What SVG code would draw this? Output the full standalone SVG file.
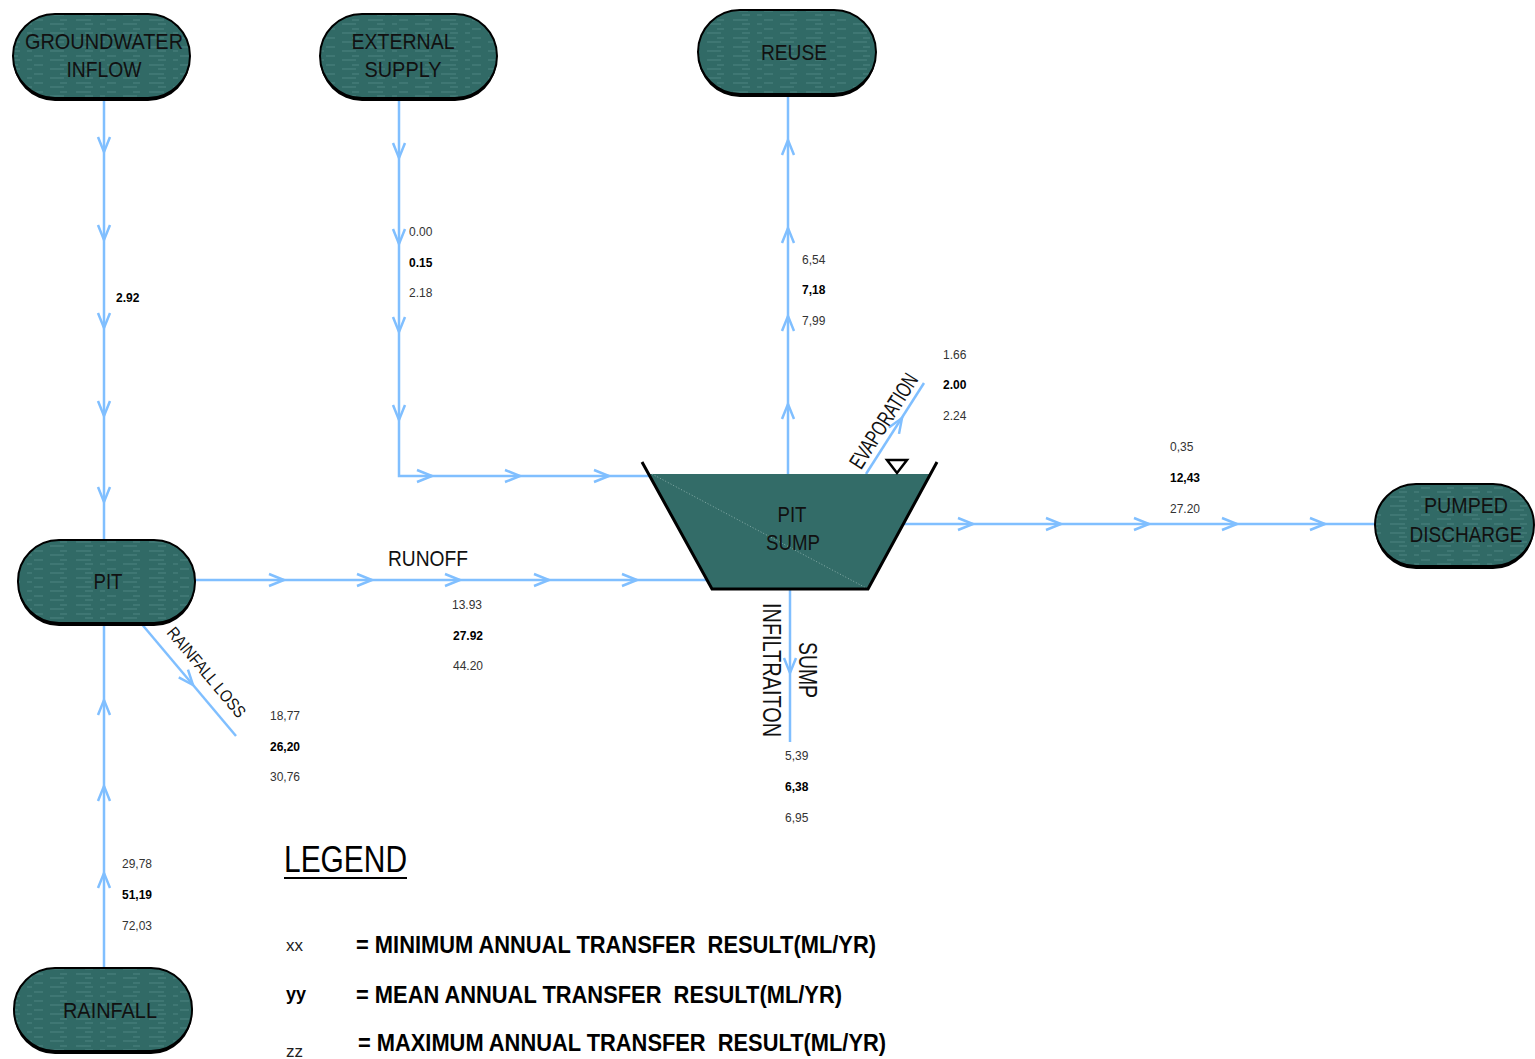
<svg xmlns="http://www.w3.org/2000/svg" xmlns:xlink="http://www.w3.org/1999/xlink" width="1535" height="1059" viewBox="0 0 1535 1059">
<style>
text{font-family:"Liberation Sans",Arial,sans-serif}
.nt{font-size:22px;fill:#111;text-anchor:middle}
.pill{fill:url(#tex);stroke:#000;stroke-width:2}
.sh{fill:#000}
.ln{fill:none;stroke:#80bfff;stroke-width:2.5}
.num{font-size:12px;fill:#333}
.nb{font-size:12px;fill:#000;font-weight:bold}
.lbl{font-size:22px;fill:#111}
.leg{font-size:24px;font-weight:bold;fill:#000}
</style>
<defs>
<pattern id="tex" patternUnits="userSpaceOnUse" width="73" height="9">
<rect width="73" height="9" fill="#316a66"/>
<path d="M3,2h15M34,2h9M50,6h14M12,6h8M27,6h5M60,2h7" stroke="#5f9590" stroke-width="1" opacity="0.6"/>
</pattern>
<path id="ch" d="M-15,-6L0,0L-15,6" fill="none" stroke="#80bfff" stroke-width="2.5"/>
</defs>
<rect width="1535" height="1059" fill="#fff"/>

<g id="connectors">
<path class="ln" d="M104,98V541"/>
<path class="ln" d="M399,98V476H650"/>
<path class="ln" d="M788,474V94"/>
<path class="ln" d="M866,474L924,383"/>
<path class="ln" d="M195,580H707"/>
<path class="ln" d="M903,524H1376"/>
<path class="ln" d="M790,589V742"/>
<path class="ln" d="M140,622L236,736"/>
<path class="ln" d="M104,968V623"/>
<use xlink:href="#ch" transform="translate(104,152) rotate(90)"/>
<use xlink:href="#ch" transform="translate(104,240) rotate(90)"/>
<use xlink:href="#ch" transform="translate(104,328) rotate(90)"/>
<use xlink:href="#ch" transform="translate(104,416) rotate(90)"/>
<use xlink:href="#ch" transform="translate(104,502) rotate(90)"/>
<use xlink:href="#ch" transform="translate(399,158) rotate(90)"/>
<use xlink:href="#ch" transform="translate(399,244) rotate(90)"/>
<use xlink:href="#ch" transform="translate(399,332) rotate(90)"/>
<use xlink:href="#ch" transform="translate(399,420) rotate(90)"/>
<use xlink:href="#ch" transform="translate(432,476)"/>
<use xlink:href="#ch" transform="translate(520,476)"/>
<use xlink:href="#ch" transform="translate(609,476)"/>
<use xlink:href="#ch" transform="translate(788,140) rotate(-90)"/>
<use xlink:href="#ch" transform="translate(788,228) rotate(-90)"/>
<use xlink:href="#ch" transform="translate(788,316) rotate(-90)"/>
<use xlink:href="#ch" transform="translate(788,404) rotate(-90)"/>
<use xlink:href="#ch" transform="translate(902,418) rotate(-57.5)"/>
<use xlink:href="#ch" transform="translate(284,580)"/>
<use xlink:href="#ch" transform="translate(372,580)"/>
<use xlink:href="#ch" transform="translate(460,580)"/>
<use xlink:href="#ch" transform="translate(549,580)"/>
<use xlink:href="#ch" transform="translate(637,580)"/>
<use xlink:href="#ch" transform="translate(973,524)"/>
<use xlink:href="#ch" transform="translate(1061,524)"/>
<use xlink:href="#ch" transform="translate(1149,524)"/>
<use xlink:href="#ch" transform="translate(1237,524)"/>
<use xlink:href="#ch" transform="translate(1325,524)"/>
<use xlink:href="#ch" transform="translate(790,673) rotate(90)"/>
<use xlink:href="#ch" transform="translate(193,685) rotate(50)"/>
<use xlink:href="#ch" transform="translate(104,700) rotate(-90)"/>
<use xlink:href="#ch" transform="translate(104,786) rotate(-90)"/>
<use xlink:href="#ch" transform="translate(104,873) rotate(-90)"/>

<text class="lbl" x="388" y="566" textLength="80" lengthAdjust="spacingAndGlyphs">RUNOFF</text>
<text class="lbl" font-size="19" text-anchor="middle" transform="translate(890,425) rotate(-57.5)" textLength="108" lengthAdjust="spacingAndGlyphs">EVAPORATION</text>
<text class="lbl" style="font-size:17px" text-anchor="middle" transform="translate(202,676) rotate(50)" textLength="112" lengthAdjust="spacingAndGlyphs">RAINFALL LOSS</text>
<text class="lbl" style="font-size:25px" text-anchor="middle" transform="translate(763,670) rotate(90)" textLength="134" lengthAdjust="spacingAndGlyphs">INFILTRAITON</text>
<text class="lbl" style="font-size:25px" text-anchor="middle" transform="translate(799,670) rotate(90)" textLength="56" lengthAdjust="spacingAndGlyphs">SUMP</text>

<text class="nb" x="116" y="302">2.92</text>
<text class="num" x="409" y="236">0.00</text>
<text class="nb" x="409" y="267">0.15</text>
<text class="num" x="409" y="297">2.18</text>
<text class="num" x="802" y="264">6,54</text>
<text class="nb" x="802" y="294">7,18</text>
<text class="num" x="802" y="325">7,99</text>
<text class="num" x="943" y="359">1.66</text>
<text class="nb" x="943" y="389">2.00</text>
<text class="num" x="943" y="420">2.24</text>
<text class="num" x="1170" y="451">0,35</text>
<text class="nb" x="1170" y="482">12,43</text>
<text class="num" x="1170" y="513">27.20</text>
<text class="num" x="452" y="609">13.93</text>
<text class="nb" x="453" y="640">27.92</text>
<text class="num" x="453" y="670">44.20</text>
<text class="num" x="270" y="720">18,77</text>
<text class="nb" x="270" y="751">26,20</text>
<text class="num" x="270" y="781">30,76</text>
<text class="num" x="785" y="760">5,39</text>
<text class="nb" x="785" y="791">6,38</text>
<text class="num" x="785" y="822">6,95</text>
<text class="num" x="122" y="868">29,78</text>
<text class="nb" x="122" y="899">51,19</text>
<text class="num" x="122" y="930">72,03</text>
</g>

<g id="groundwater-inflow">
<rect class="sh" x="13" y="17" width="177" height="84" rx="42"/>
<rect class="pill" x="13" y="14" width="177" height="84" rx="42"/>
<text class="nt" x="104" y="49" textLength="158" lengthAdjust="spacingAndGlyphs">GROUNDWATER</text>
<text class="nt" x="104" y="77" textLength="75" lengthAdjust="spacingAndGlyphs">INFLOW</text>
</g>
<g id="external-supply">
<rect class="sh" x="320" y="17" width="177" height="84" rx="42"/>
<rect class="pill" x="320" y="14" width="177" height="84" rx="42"/>
<text class="nt" x="403" y="49" textLength="103" lengthAdjust="spacingAndGlyphs">EXTERNAL</text>
<text class="nt" x="403" y="77" textLength="77" lengthAdjust="spacingAndGlyphs">SUPPLY</text>
</g>
<g id="reuse">
<rect class="sh" x="698" y="13" width="178" height="84" rx="42"/>
<rect class="pill" x="698" y="10" width="178" height="84" rx="42"/>
<text class="nt" x="794" y="60" textLength="66" lengthAdjust="spacingAndGlyphs">REUSE</text>
</g>
<g id="pit">
<rect class="sh" x="18" y="543" width="177" height="83" rx="41"/>
<rect class="pill" x="18" y="540" width="177" height="83" rx="41"/>
<text class="nt" x="108" y="589" textLength="29" lengthAdjust="spacingAndGlyphs">PIT</text>
</g>
<g id="rainfall">
<rect class="sh" x="14" y="971" width="178" height="83" rx="41"/>
<rect class="pill" x="14" y="968" width="178" height="83" rx="41"/>
<text class="nt" x="110" y="1018" textLength="94" lengthAdjust="spacingAndGlyphs">RAINFALL</text>
</g>
<g id="pumped-discharge">
<rect class="sh" x="1375" y="487" width="159" height="82" rx="41"/>
<rect class="pill" x="1375" y="484" width="159" height="82" rx="41"/>
<text class="nt" x="1466" y="513" textLength="84" lengthAdjust="spacingAndGlyphs">PUMPED</text>
<text class="nt" style="font-size:19px" transform="translate(1466,542) scale(1,1.15)">DISCHARGE</text>
</g>
<g id="pit-sump">
<polygon points="649,474 931,474 868,589 712,589" fill="#336c68"/>
<path d="M652,474L868,589" stroke="#9cbcb9" stroke-width="0.8" stroke-dasharray="1,2" fill="none"/>
<polyline points="642,462 712,589 868,589 937,462" fill="none" stroke="#000" stroke-width="3"/>
<polygon points="887,460 907,460 897,473" fill="#fff" stroke="#000" stroke-width="2.5"/>
<text class="nt" x="792" y="522" textLength="29" lengthAdjust="spacingAndGlyphs">PIT</text>
<text class="nt" x="793" y="550" textLength="54" lengthAdjust="spacingAndGlyphs">SUMP</text>
</g>

<g id="legend">
<text x="284" y="872" style="font-size:36px;fill:#000" textLength="123" lengthAdjust="spacingAndGlyphs">LEGEND</text>
<rect x="284" y="877" width="123" height="2" fill="#000"/>
<text x="286" y="951" style="font-size:17px;fill:#222">xx</text>
<text x="286" y="1000" style="font-size:18px;fill:#000;font-weight:bold">yy</text>
<text x="286" y="1057" style="font-size:17px;fill:#222">zz</text>
<text class="leg" x="356" y="953" textLength="520" lengthAdjust="spacingAndGlyphs">= MINIMUM ANNUAL TRANSFER&#160; RESULT(ML/YR)</text>
<text class="leg" x="356" y="1003" textLength="486" lengthAdjust="spacingAndGlyphs">= MEAN ANNUAL TRANSFER&#160; RESULT(ML/YR)</text>
<text class="leg" x="358" y="1051" textLength="528" lengthAdjust="spacingAndGlyphs">= MAXIMUM ANNUAL TRANSFER&#160; RESULT(ML/YR)</text>
</g>
</svg>
